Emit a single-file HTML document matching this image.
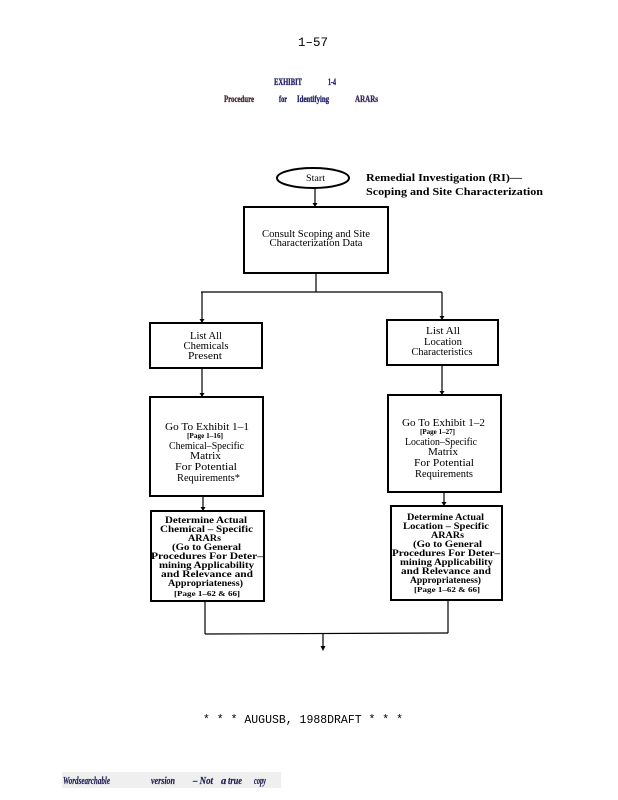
<!DOCTYPE html>
<html>
<head>
<meta charset="utf-8">
<style>
html,body{margin:0;padding:0;background:#fff;}
svg{display:block;}
</style>
</head>
<body>
<svg width="618" height="800" viewBox="0 0 618 800" xmlns="http://www.w3.org/2000/svg">
<rect x="0" y="0" width="618" height="800" fill="#fff"/>

<!-- Page number -->
<text x="313" y="46" font-family="Liberation Mono, monospace" font-size="12.5" text-anchor="middle" fill="#000">1–57</text>

<!-- Exhibit header -->
<g font-family="Liberation Serif, serif" font-weight="bold" font-size="9.5" fill="#23236a" stroke="#23236a" stroke-width="0.35">
<text x="274" y="85" textLength="28" lengthAdjust="spacingAndGlyphs">EXHIBIT</text>
<text x="328" y="85" textLength="8" lengthAdjust="spacingAndGlyphs">1-4</text>
<text x="224" y="102" textLength="30" lengthAdjust="spacingAndGlyphs" fill="#4a2a3a" stroke="#4a2a3a">Procedure</text>
<text x="279" y="102" textLength="8" lengthAdjust="spacingAndGlyphs">for</text>
<text x="297" y="102" textLength="32" lengthAdjust="spacingAndGlyphs">Identifying</text>
<text x="355" y="102" textLength="23" lengthAdjust="spacingAndGlyphs" fill="#3a2a5a" stroke="#3a2a5a">ARARs</text>
</g>

<!-- Start ellipse -->
<ellipse cx="313" cy="178" rx="36" ry="10" fill="none" stroke="#000" stroke-width="2"/>
<text x="315.5" y="181" font-family="Liberation Serif, serif" font-size="9" text-anchor="middle" textLength="19" lengthAdjust="spacingAndGlyphs">Start</text>

<!-- Title -->
<g font-family="Liberation Serif, serif" font-weight="bold" font-size="11" fill="#000">
<text x="366" y="181" textLength="156" lengthAdjust="spacingAndGlyphs">Remedial Investigation (RI)—</text>
<text x="366" y="195" textLength="177" lengthAdjust="spacingAndGlyphs">Scoping and Site Characterization</text>
</g>

<!-- connectors -->
<g stroke="#000" stroke-width="1.2" fill="none">
<line x1="315" y1="188" x2="315" y2="205"/>
<line x1="316" y1="273" x2="316" y2="292"/>
<line x1="201" y1="292" x2="442" y2="292"/>
<line x1="202" y1="292" x2="202" y2="321"/>
<line x1="442" y1="292" x2="442" y2="318"/>
<line x1="202" y1="368" x2="202" y2="395"/>
<line x1="442" y1="365" x2="442" y2="393"/>
<line x1="203" y1="496" x2="203" y2="509"/>
<line x1="444" y1="492" x2="444" y2="504"/>
<line x1="205" y1="601" x2="205" y2="634"/>
<line x1="448" y1="600" x2="448" y2="633"/>
<line x1="205" y1="634" x2="448" y2="633"/>
<line x1="323" y1="633" x2="323" y2="648"/>
</g>
<!-- arrowheads -->
<g fill="#000">
<polygon points="312.5,203 317.5,203 315,207"/>
<polygon points="199.5,319 204.5,319 202,323"/>
<polygon points="439.5,316 444.5,316 442,320"/>
<polygon points="199.5,393 204.5,393 202,397"/>
<polygon points="439.5,391 444.5,391 442,395"/>
<polygon points="200.5,507 205.5,507 203,511"/>
<polygon points="441.5,502 446.5,502 444,506"/>
<polygon points="320.5,646 325.5,646 323,651"/>
</g>

<!-- boxes -->
<g fill="none" stroke="#000" stroke-width="2">
<rect x="244" y="207" width="144" height="66"/>
<rect x="150" y="323" width="112" height="45"/>
<rect x="387" y="320" width="111" height="45"/>
<rect x="150" y="397" width="113" height="99"/>
<rect x="388" y="395" width="113" height="97"/>
<rect x="151" y="511" width="113" height="90"/>
<rect x="391" y="506" width="111" height="94"/>
</g>

<!-- box text -->
<g font-family="Liberation Serif, serif" font-size="10" text-anchor="middle" fill="#000" lengthAdjust="spacingAndGlyphs">
<text x="316" y="237" textLength="108" lengthAdjust="spacingAndGlyphs">Consult Scoping and Site</text>
<text x="316" y="246" textLength="93" lengthAdjust="spacingAndGlyphs">Characterization Data</text>

<text x="206" y="339" textLength="32" lengthAdjust="spacingAndGlyphs">List All</text>
<text x="206" y="349" textLength="45" lengthAdjust="spacingAndGlyphs">Chemicals</text>
<text x="205" y="359" textLength="34" lengthAdjust="spacingAndGlyphs">Present</text>

<text x="443" y="334" textLength="34" lengthAdjust="spacingAndGlyphs">List All</text>
<text x="443" y="345" textLength="38" lengthAdjust="spacingAndGlyphs">Location</text>
<text x="442" y="355" textLength="61" lengthAdjust="spacingAndGlyphs">Characteristics</text>

<text x="207" y="430" textLength="84" lengthAdjust="spacingAndGlyphs">Go To Exhibit 1–1</text>
<text x="205" y="438" font-size="7" font-weight="bold" textLength="36" lengthAdjust="spacingAndGlyphs">[Page 1–16]</text>
<text x="206.5" y="449" textLength="75" lengthAdjust="spacingAndGlyphs">Chemical–Specific</text>
<text x="205.5" y="459" textLength="31" lengthAdjust="spacingAndGlyphs">Matrix</text>
<text x="206" y="470" textLength="62" lengthAdjust="spacingAndGlyphs">For Potential</text>
<text x="208.5" y="481" textLength="63" lengthAdjust="spacingAndGlyphs">Requirements*</text>

<text x="443.5" y="426" textLength="83" lengthAdjust="spacingAndGlyphs">Go To Exhibit 1–2</text>
<text x="437.5" y="434" font-size="7" font-weight="bold" textLength="35" lengthAdjust="spacingAndGlyphs">[Page 1–27]</text>
<text x="441" y="445" textLength="72" lengthAdjust="spacingAndGlyphs">Location–Specific</text>
<text x="443" y="455" textLength="30" lengthAdjust="spacingAndGlyphs">Matrix</text>
<text x="444" y="466" textLength="60" lengthAdjust="spacingAndGlyphs">For Potential</text>
<text x="444" y="477" textLength="58" lengthAdjust="spacingAndGlyphs">Requirements</text>
</g>

<g font-family="Liberation Serif, serif" font-size="9.5" text-anchor="middle" fill="#000" font-weight="bold">
<text x="206" y="523" textLength="82" lengthAdjust="spacingAndGlyphs">Determine Actual</text>
<text x="206.5" y="532" textLength="93" lengthAdjust="spacingAndGlyphs">Chemical – Specific</text>
<text x="204.5" y="541" textLength="33" lengthAdjust="spacingAndGlyphs">ARARs</text>
<text x="206.5" y="550" textLength="69" lengthAdjust="spacingAndGlyphs">(Go to General</text>
<text x="207" y="559" textLength="112" lengthAdjust="spacingAndGlyphs">Procedures For Deter–</text>
<text x="206.5" y="568" textLength="95" lengthAdjust="spacingAndGlyphs">mining Applicability</text>
<text x="207" y="577" textLength="92" lengthAdjust="spacingAndGlyphs">and Relevance and</text>
<text x="205.5" y="586" textLength="75" lengthAdjust="spacingAndGlyphs">Appropriateness)</text>
<text x="207" y="596" font-size="7.5" textLength="66" lengthAdjust="spacingAndGlyphs">[Page 1–62 &amp; 66]</text>

<text x="445.5" y="520" textLength="77" lengthAdjust="spacingAndGlyphs">Determine Actual</text>
<text x="446" y="529" textLength="86" lengthAdjust="spacingAndGlyphs">Location – Specific</text>
<text x="447.5" y="538" textLength="33" lengthAdjust="spacingAndGlyphs">ARARs</text>
<text x="447.5" y="547" textLength="69" lengthAdjust="spacingAndGlyphs">(Go to General</text>
<text x="446" y="556" textLength="108" lengthAdjust="spacingAndGlyphs">Procedures For Deter–</text>
<text x="446.5" y="565" textLength="93" lengthAdjust="spacingAndGlyphs">mining Applicability</text>
<text x="446" y="574" textLength="90" lengthAdjust="spacingAndGlyphs">and Relevance and</text>
<text x="445.5" y="583" textLength="71" lengthAdjust="spacingAndGlyphs">Appropriateness)</text>
<text x="447" y="592" font-size="7.5" textLength="66" lengthAdjust="spacingAndGlyphs">[Page 1–62 &amp; 66]</text>
</g>

<!-- draft footer -->
<text x="203" y="723" font-family="Liberation Mono, monospace" font-size="12" textLength="200" lengthAdjust="spacingAndGlyphs" fill="#000">* * * AUGUSB, 1988DRAFT * * *</text>

<!-- bottom banner -->
<rect x="62" y="772" width="219" height="16" fill="#efefef"/>
<g font-family="Liberation Serif, serif" font-style="italic" font-weight="bold" font-size="10.5" fill="#1f1f55" stroke="#1f1f55" stroke-width="0.2">
<text x="63" y="784" textLength="47" lengthAdjust="spacingAndGlyphs">Wordsearchable</text>
<text x="151" y="784" textLength="24" lengthAdjust="spacingAndGlyphs">version</text>
<text x="193" y="784" textLength="20" lengthAdjust="spacingAndGlyphs">– Not</text>
<text x="221" y="784">a</text>
<text x="228" y="784" textLength="14" lengthAdjust="spacingAndGlyphs">true</text>
<text x="254" y="784" textLength="12" lengthAdjust="spacingAndGlyphs">copy</text>
</g>
</svg>
</body>
</html>
